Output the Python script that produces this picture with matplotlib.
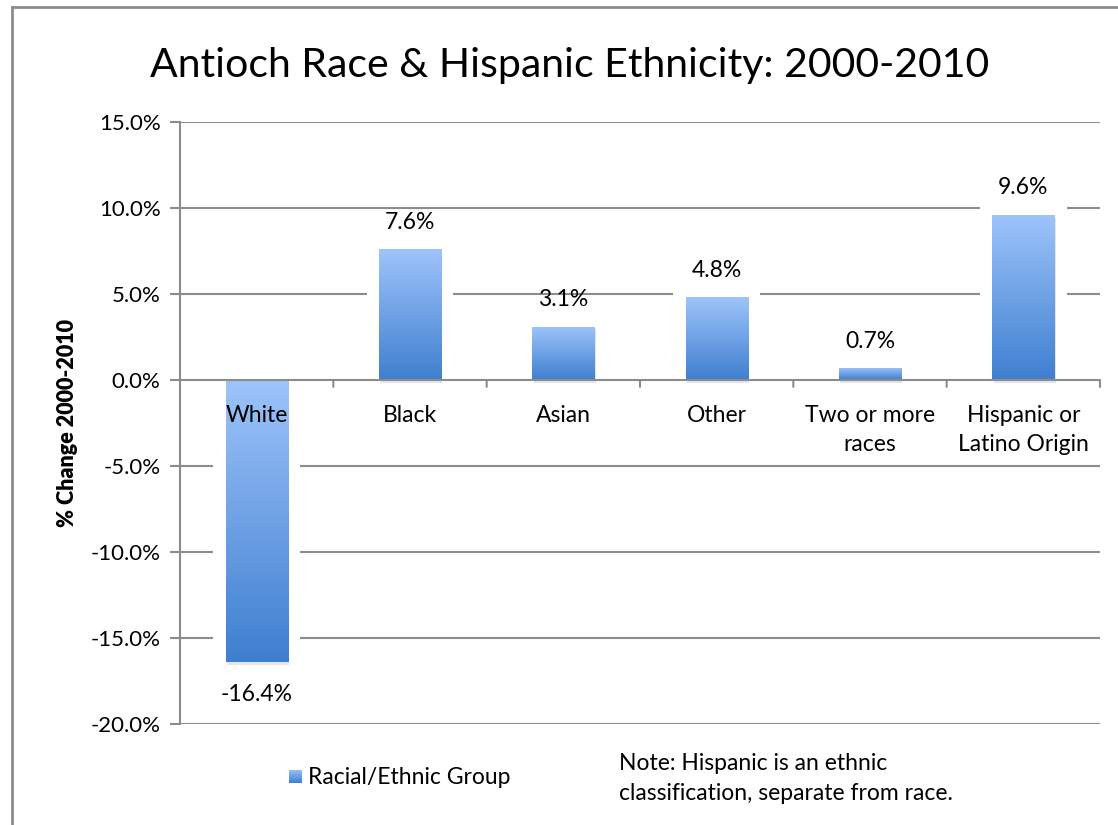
import numpy as np
import matplotlib
matplotlib.use("Agg")
import matplotlib.pyplot as plt
from matplotlib.colors import LinearSegmentedColormap
import matplotlib.patheffects as pe

plt.rcParams['font.family'] = ['Lato', 'DejaVu Sans']

categories = ["White", "Black", "Asian", "Other", "Two or more\nraces", "Hispanic or\nLatino Origin"]
values = [-16.4, 7.6, 3.1, 4.8, 0.7, 9.6]
yticks = [-20, -15, -10, -5, 0, 5, 10, 15]
title = "Antioch Race & Hispanic Ethnicity: 2000-2010"
ylabel = "% Change 2000-2010"
legend_label = "Racial/Ethnic Group"
note = "Note: Hispanic is an ethnic\nclassification, separate from race."

W, H, DPI = 1118, 825, 100
fig = plt.figure(figsize=(W / DPI, H / DPI), dpi=DPI)
fig.patch.set_facecolor('white')

grid_c = '#8c8c8c'
cmap = LinearSegmentedColormap.from_list('barg', ['#3f7fd0', '#9ec4fa'])
grad = np.linspace(0, 1, 256).reshape(-1, 1)

ax = fig.add_axes([180 / W, 1 - 724 / H, 920 / W, 602 / H])
ax.set_xlim(-0.5, len(categories) - 0.5)
ax.set_ylim(-20, 15)
ax.set_yticks(yticks)
ax.set_yticklabels([f"{v:.1f}%" for v in yticks], fontsize=16)
ax.tick_params(axis='y', length=7, width=1.5, color=grid_c, pad=7)
ax.set_xticks([])
for s in ['top', 'right', 'bottom']:
    ax.spines[s].set_visible(False)
ax.spines['left'].set_color(grid_c)
ax.spines['left'].set_linewidth(1.5)
for v in yticks:
    if v != 0:
        ax.axhline(v, color=grid_c, lw=1.5, zorder=0)

x = np.arange(len(categories))
bw = 0.405
# white halo around bars (hides gridlines near bars)
for xi, v in zip(x, values):
    ext = v + (0.5 if v > 0 else -0.5)
    ax.bar(xi, ext, width=bw + 0.16, color='white', zorder=1, linewidth=0)

bars = ax.bar(x, values, width=bw, color='#6a9fe6', zorder=2, linewidth=0,
              path_effects=[pe.SimplePatchShadow(offset=(1.0, -2.0), shadow_rgbFace='#999999', alpha=0.25),
                            pe.Normal()])
for b in bars:
    x0, y0 = b.get_x(), b.get_y()
    w, h = b.get_width(), b.get_height()
    ylo, yhi = min(y0, y0 + h), max(y0, y0 + h)
    im = ax.imshow(grad, cmap=cmap, origin='lower', aspect='auto',
                   extent=[x0, x0 + w, ylo, yhi], zorder=3)
    im.set_clip_path(b)
ax.set_aspect('auto')
ax.set_xlim(-0.5, len(categories) - 0.5)
ax.set_ylim(-20, 15)

# zero line with category-boundary ticks
ax.axhline(0, color=grid_c, lw=1.5, zorder=4)
for k in range(1, len(categories) + 1):
    ax.annotate('', xy=(k - 0.5, 0), xytext=(0, -5), textcoords='offset points',
                arrowprops=dict(arrowstyle='-', color=grid_c, lw=1.5, shrinkA=0, shrinkB=0), zorder=4)

# data labels
for xi, v in zip(x, values):
    off = 19.4 if v > 0 else -23
    ax.annotate(f"{v:.1f}%", xy=(xi, v), xytext=(0, off), textcoords='offset points',
                ha='center', va='center', fontsize=16.5, zorder=5)

# category labels
for xi, lab in zip(x, categories):
    for j, line in enumerate(lab.split('\n')):
        ax.annotate(line, xy=(xi, 0), xytext=(0, -30.2 - j * 20.9), textcoords='offset points',
                    ha='center', va='baseline', fontsize=16.5, zorder=6)

ax.set_ylabel(ylabel, fontsize=15.5, fontweight='heavy')
ax.yaxis.set_label_coords((78 - 180) / 920, 0.5)

fig.text(570 / W, 1 - 65 / H, title, ha='center', va='center', fontsize=29.5)

# legend
lax = fig.add_axes([289 / W, 1 - 783 / H, 13 / W, 13 / H])
lax.imshow(grad, cmap=cmap, origin='lower', aspect='auto')
lax.axis('off')
fig.text(308 / W, 1 - 778 / H, legend_label, ha='left', va='center', fontsize=16.5)

# note
for j, line in enumerate(note.split('\n')):
    fig.text(619 / W, 1 - (763 + 30 * j) / H, line, ha='left', va='center', fontsize=16.5)

# figure border
fig.add_artist(plt.Line2D([12 / W, 12 / W], [0, 1 - 7 / H], color='#8c8c8c', lw=2, transform=fig.transFigure))
fig.add_artist(plt.Line2D([12 / W, 1], [1 - 7 / H, 1 - 7 / H], color='#8c8c8c', lw=2, transform=fig.transFigure))

fig.savefig('out.png', dpi=DPI)
